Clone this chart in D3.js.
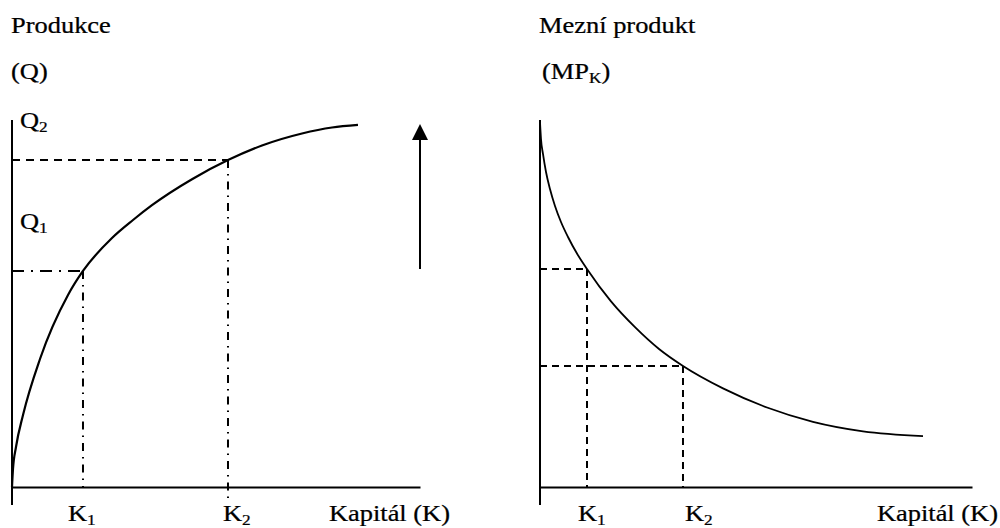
<!DOCTYPE html>
<html>
<head>
<meta charset="utf-8">
<script src="https://cdn.jsdelivr.net/npm/d3@7"></script>
<style>
  html, body { margin: 0; padding: 0; background: #fff; }
  svg { display: block; }
</style>
</head>
<body>
<svg id="chart" width="1000" height="528"></svg>
<script>
// produkce (Q) v zavislosti na kapitalu (K) - body
const prodK = [0, 0.245, 0.98, 2.7, 6.86, 13.73, 17.4, 24.51, 29.66, 34.31, 44.12, 52.94, 61.27, 71.08, 78.43, 84.8];
const prodQ = [0, 4.9, 10.9, 19.62, 34.88, 52.32, 58.86, 67.85, 72.75, 76.79, 83.87, 89.07, 93.05, 96.32, 97.96, 98.66];

// mezni produkt kapitalu (MP_K)
const mpK = [0, 0.23, 0.69, 1.39, 2.31, 3.47, 4.86, 6.48, 8.56, 10.88, 16.44, 21.99, 27.55, 33.1, 42.36, 52.55, 63.19, 74.77, 88.66];
const mpVal = [99.46, 94.82, 90.74, 85.83, 81.2, 76.57, 72.21, 68.12, 63.62, 59.4, 50.57, 43.54, 37.6, 32.97, 26.87, 21.66, 17.77, 15.18, 13.87];

// urovne K1, K2 a Q1, Q2
const prodLevelK = [17.4, 52.94];
const prodLevelQ = [58.86, 89.07];
const mpLevelK = [10.88, 33.1];
const mpLevel = [59.4, 32.97];

const kLabels = ["K", "K"];
const kSubs = ["1", "2"];
const qSubs = ["1", "2"];
const arrowQ = [59.4, 98.9];

const font = "'Liberation Serif', 'Times New Roman', serif";
const svg = d3.select("#chart");

svg.append("rect").attr("width", 1000).attr("height", 528).attr("fill", "#fff");

const yScale = d3.scaleLinear().domain([0, 100]).range([487, 120]);
const xLeft = d3.scaleLinear().domain([0, 100]).range([12, 420]);
const xRight = d3.scaleLinear().domain([0, 100]).range([540, 972]);

// text s mirnym vodorovnym roztazenim jako v predloze
function label(x, y, main, sub, anchor) {
  const t = svg.append("text")
    .attr("transform", `translate(${x},${y}) scale(1.15,1)`)
    .style("font-family", font)
    .attr("font-size", 23)
    .attr("fill", "#000")
    .attr("stroke", "#000")
    .attr("stroke-width", 0.25)
    .attr("text-anchor", anchor || "start");
  t.append("tspan").text(main);
  if (sub) {
    t.append("tspan").attr("font-size", 15).attr("dy", 4).text(sub);
  }
  return t;
}

function drawPanel(x, opts) {
  const g = svg.append("g");

  // osy
  g.append("line")
    .attr("x1", x(0)).attr("x2", x(0))
    .attr("y1", yScale(100)).attr("y2", yScale(0) + 18)
    .attr("stroke", "#000").attr("stroke-width", 2);

  const axis = d3.axisBottom(x).tickValues([]).tickSizeOuter(0);
  g.append("g")
    .attr("transform", `translate(0,${yScale(0)})`)
    .call(axis)
    .call(a => a.select(".domain").attr("stroke", "#000").attr("stroke-width", 2));

  // krivka
  const line = d3.line()
    .x(d => x(d[0]))
    .y(d => yScale(d[1]))
    .curve(d3.curveMonotoneX);

  g.append("path")
    .datum(d3.zip(opts.ks, opts.vals))
    .attr("d", line)
    .attr("fill", "none")
    .attr("stroke", "#000")
    .attr("stroke-width", opts.curveWidth);

  return g;
}

// ---- levy graf: produkce ----
const gl = drawPanel(xLeft, { ks: prodK, vals: prodQ, curveWidth: 2.2 });

// Q2 vodorovne carkovane
gl.append("line")
  .attr("x1", xLeft(0)).attr("x2", xLeft(prodLevelK[1]))
  .attr("y1", yScale(prodLevelQ[1])).attr("y2", yScale(prodLevelQ[1]))
  .attr("stroke", "#000").attr("stroke-width", 2).attr("stroke-dasharray", "8,6");
// K2 svisle carka-tecka, prechazi pod osu
gl.append("line")
  .attr("x1", xLeft(prodLevelK[1])).attr("x2", xLeft(prodLevelK[1]))
  .attr("y1", yScale(prodLevelQ[1])).attr("y2", yScale(0) + 13)
  .attr("stroke", "#000").attr("stroke-width", 2).attr("stroke-dasharray", "8,6,1.5,6");
// Q1 vodorovne carka-tecka
gl.append("line")
  .attr("x1", xLeft(0)).attr("x2", xLeft(prodLevelK[0]))
  .attr("y1", yScale(prodLevelQ[0])).attr("y2", yScale(prodLevelQ[0]))
  .attr("stroke", "#000").attr("stroke-width", 2).attr("stroke-dasharray", "12,7,2,7");
// K1 svisle carka-tecka
gl.append("line")
  .attr("x1", xLeft(prodLevelK[0])).attr("x2", xLeft(prodLevelK[0]))
  .attr("y1", yScale(prodLevelQ[0])).attr("y2", yScale(0))
  .attr("stroke", "#000").attr("stroke-width", 2).attr("stroke-dasharray", "8,6,1.5,6");

// sipka nahoru
gl.append("line")
  .attr("x1", xLeft(100)).attr("x2", xLeft(100))
  .attr("y1", yScale(arrowQ[0])).attr("y2", yScale(arrowQ[1]) + 14)
  .attr("stroke", "#000").attr("stroke-width", 2);
gl.append("path")
  .attr("d", d3.line()([
    [xLeft(100), yScale(arrowQ[1])],
    [xLeft(100) - 8, yScale(arrowQ[1]) + 16],
    [xLeft(100) + 8, yScale(arrowQ[1]) + 16]
  ]) + "Z")
  .attr("fill", "#000");

label(11, 33, "Produkce");
label(11, 79, "(Q)");
label(xLeft(0) + 8, yScale(prodLevelQ[1]) - 32, "Q", qSubs[1]);
label(xLeft(0) + 8, yScale(prodLevelQ[0]) - 42, "Q", qSubs[0]);
label(xLeft(prodLevelK[0]) - 15, 521, kLabels[0], kSubs[0]);
label(xLeft(prodLevelK[1]) - 5, 521, kLabels[1], kSubs[1]);
label(xLeft(100) + 30, 521, "Kapitál (K)", null, "end");

// ---- pravy graf: mezni produkt ----
const gr = drawPanel(xRight, { ks: mpK, vals: mpVal, curveWidth: 1.8 });

mpLevelK.forEach((k, i) => {
  gr.append("line")
    .attr("x1", xRight(0)).attr("x2", xRight(k))
    .attr("y1", yScale(mpLevel[i])).attr("y2", yScale(mpLevel[i]))
    .attr("stroke", "#000").attr("stroke-width", 2).attr("stroke-dasharray", "7,5");
  gr.append("line")
    .attr("x1", xRight(k)).attr("x2", xRight(k))
    .attr("y1", yScale(mpLevel[i])).attr("y2", yScale(0))
    .attr("stroke", "#000").attr("stroke-width", 2).attr("stroke-dasharray", "7,5");
});

label(539, 33, "Mezní produkt");
label(542, 79, "(MP", "K").append("tspan").attr("dy", -4).text(")");
label(xRight(mpLevelK[0]) - 9, 521, kLabels[0], kSubs[0]);
label(xRight(mpLevelK[1]) + 2, 521, kLabels[1], kSubs[1]);
label(xRight(100) + 26, 521, "Kapitál (K)", null, "end");
</script>
</body>
</html>
